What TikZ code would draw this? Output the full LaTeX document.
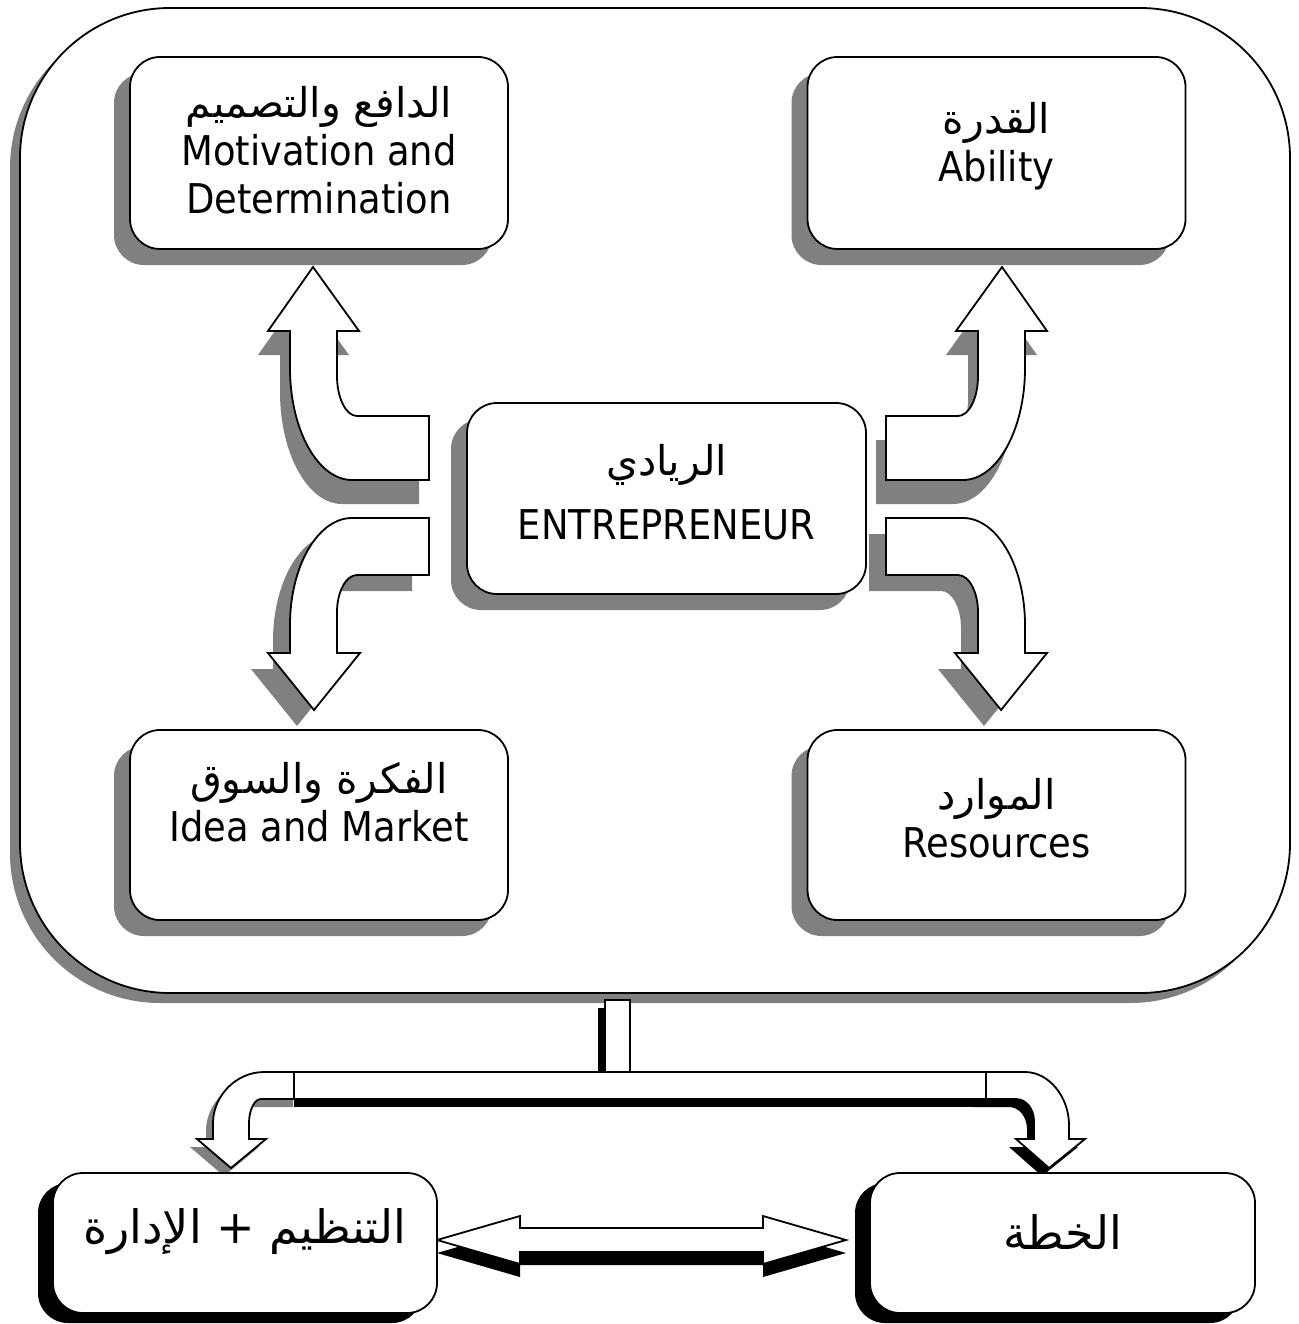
\documentclass[tikz,border=0pt]{standalone}
\usepackage{fontspec}
\setmainfont[FakeStretch=0.9]{DejaVu Sans}
\newfontfamily\arfont[Script=Arabic]{DejaVu Sans}
\TeXXeTstate=1
\usetikzlibrary{shadows}
\newcommand\ARtxt[1]{{\arfont\beginR #1\endR}}
\tikzset{
  framebox/.style={draw, line width=1.8pt, fill=white, rounded corners=150pt,
    minimum width=1270pt, minimum height=985pt, inner sep=0pt,
    drop shadow={shadow xshift=-10pt, shadow yshift=-10pt, fill=gray, opacity=1}},
  topbox/.style={draw, line width=1.8pt, fill=white, rounded corners=30pt,
    minimum width=378pt, minimum height=192pt, inner sep=0pt,
    drop shadow={shadow xshift=-16pt, shadow yshift=-16pt, fill=gray, opacity=1}},
  lowbox/.style={draw, line width=1.8pt, fill=white, rounded corners=30pt,
    minimum width=384pt, minimum height=140pt, inner sep=0pt,
    drop shadow={shadow xshift=-15pt, shadow yshift=-10pt, fill=black, opacity=1}},
  blockarrow/.style={draw, line width=1.8pt, fill=white, line join=miter},
  greyshade/.style={fill=gray},
  blackshade/.style={fill=black},
  txt/.style={align=center, inner sep=0pt, font=\fontsize{41}{48}\selectfont},
  bigtxt/.style={align=center, inner sep=0pt, font=\fontsize{46}{52}\selectfont}
}
\def\ULpath{(313,267) -- (359,331) -- (337,331) -- (337,376) .. controls (337,398) and (346,416) .. (357,416) -- (429,416) -- (429,480) -- (352,480) .. controls (318,480) and (290,430) .. (290,368) -- (290,331) -- (268,331) -- cycle}
\def\DLpath{(314,710) -- (360,653) -- (337,653) -- (337,612) .. controls (337,592) and (346,575) .. (357,575) -- (429,575) -- (429,518) -- (352,518) .. controls (318,518) and (290,566) .. (290,625) -- (290,653) -- (268,653) -- cycle}
\def\LApath{(300,1072) -- (264,1072) .. controls (236,1072) and (213,1096) .. (213,1123) -- (213,1139) -- (197,1139) -- (231,1168) -- (266,1139) -- (249,1139) -- (249,1123) .. controls (249,1111) and (254,1099) .. (261,1099) -- (300,1099) -- cycle}
\def\RApath{(980,1072) -- (1025,1072) .. controls (1049,1072) and (1069,1097) .. (1069,1125) -- (1069,1139) -- (1085,1139) -- (1049,1168) -- (1016,1139) -- (1034,1139) -- (1034,1121) .. controls (1034,1109) and (1026,1099) .. (1016,1099) -- (980,1099) -- cycle}
\def\DBLpath{(437,1240) -- (520,1216) -- (520,1228) -- (763,1228) -- (763,1216) -- (846,1240) -- (763,1264) -- (763,1252) -- (520,1252) -- (520,1264) -- cycle}
\begin{document}
\begin{tikzpicture}[x=1pt,y=-1pt]
\useasboundingbox (0,0) rectangle (1298,1324);
\fill[white] (0,0) rectangle (1298,1324);

% outer frame
\node[framebox] (frame) at (655,500.5) {};

% four curved arrows: shadows
\begin{scope}[shift={(-10,24)}]
  \fill[greyshade] \ULpath;
  \begin{scope}[xshift=1315pt, xscale=-1] \fill[greyshade] \ULpath; \end{scope}
\end{scope}
\begin{scope}[shift={(-17,16)}]
  \fill[greyshade] \DLpath;
  \begin{scope}[xshift=1315pt, xscale=-1] \fill[greyshade] \DLpath; \end{scope}
\end{scope}
% four curved arrows
\draw[blockarrow] \ULpath;
\draw[blockarrow] \DLpath;
\begin{scope}[xshift=1315pt, xscale=-1]
  \draw[blockarrow] \ULpath;
  \draw[blockarrow] \DLpath;
\end{scope}

% boxes inside frame
\node[topbox] (mot) at (319,153) {};
\node[topbox] (abi) at (996.5,153) {};
\node[topbox, minimum width=399pt, minimum height=191pt] (ent) at (666.5,498.5) {};
\node[topbox, minimum height=190pt] (idea) at (319,825) {};
\node[topbox, minimum height=190pt] (res) at (996.5,825) {};

\node[txt] (motT) at (319,150) {\ARtxt{الدافع والتصميم}\\Motivation and\\Determination};
\node[txt] (abiT) at (996.5,146) {\ARtxt{القدرة}\\Ability};
\node[txt] (entT) at (666.5,492) {\ARtxt{الريادي}\\[16pt]ENTREPRENEUR};
\node[txt] (ideaT) at (319,802) {\ARtxt{الفكرة والسوق}\\Idea and Market};
\node[txt] (resT) at (996.5,818) {\ARtxt{الموارد}\\Resources};

% bottom connector: shadows
\fill[greyshade, shift={(-7,8)}] \LApath;
\fill[blackshade, shift={(-7,8)}] \RApath;
\fill[blackshade] (294,1080) rectangle (986,1107);
\fill[blackshade] (598,1008) rectangle (623,1080);
% bottom connector
\draw[blockarrow] \LApath;
\draw[blockarrow] \RApath;
\draw[blockarrow] (294,1072) rectangle (986,1099);
\draw[blockarrow] (605,1000) rectangle (630,1072);

% double arrow
\fill[blackshade, shift={(0,13)}] \DBLpath;
\draw[blockarrow] \DBLpath;

% bottom boxes
\node[lowbox] (org) at (245,1243) {};
\node[lowbox, minimum width=385pt] (plan) at (1062.5,1243) {};
\node[bigtxt] (orgT) at (245,1232) {\ARtxt{التنظيم + الإدارة}};
\node[bigtxt] (planT) at (1062.5,1232) {\ARtxt{الخطة}};
\end{tikzpicture}
\end{document}
